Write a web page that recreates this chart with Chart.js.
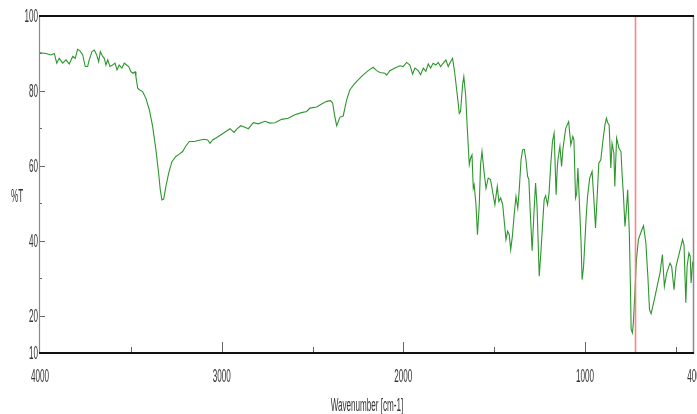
<!DOCTYPE html>
<html>
<head>
<meta charset="utf-8">
<script src="https://cdn.jsdelivr.net/npm/chart.js@4/dist/chart.umd.min.js"></script>
<style>
  html, body { margin: 0; padding: 0; background: #fff; }
  #wrap { width: 697px; height: 414px; position: relative; }
</style>
</head>
<body>
<div id="wrap"><canvas id="c" width="697" height="414"></canvas></div>
<script>
// ---- data ----
const wavenumbers = [
  4000,3967,3940,3921,3908,3894,3875,3857,3839,3820,3806,3793,3780,3765,3751,3738,3729,3714,3701,3688,
  3677,3668,3655,3646,3637,3627,3615,3600,3587,3576,3564,3549,3536,3523,3512,3499,3487,3477,3472,3462,
  3453,3435,3417,3398,3380,3362,3347,3338,3329,3319,3307,3292,3274,3252,3233,3215,3197,3178,3151,3123,
  3096,3077,3064,3050,3031,2991,2954,2932,2917,2895,2872,2853,2826,2799,2762,2734,2707,2670,2634,2597,
  2560,2532,2514,2477,2450,2422,2400,2389,2377,2367,2358,2349,2331,2312,2294,2267,2239,2221,2193,2166,
  2147,2129,2101,2092,2074,2046,2019,2001,1982,1964,1949,1936,1918,1905,1890,1876,1863,1850,1836,1821,
  1808,1795,1780,1766,1753,1740,1729,1722,1716,1703,1692,1685,1674,1667,1657,1648,1637,1630,1622,1615,
  1610,1600,1592,1582,1575,1567,1556,1545,1533,1520,1509,1496,1483,1474,1464,1453,1441,1435,1426,1417,
  1409,1400,1389,1380,1370,1362,1352,1343,1334,1325,1316,1309,1302,1291,1281,1272,1264,1252,1243,1233,
  1225,1217,1206,1198,1188,1179,1170,1159,1152,1148,1138,1129,1121,1106,1090,1078,1067,1061,1052,1046,
  1039,1028,1022,1016,1008,1001,994,986,974,961,951,942,933,924,913,901,890,882,875,867,
  858,851,841,836,826,813,802,795,789,780,771,765,756,750,746,739,734,728,717,706,
  693,678,665,654,645,636,618,599,587,574,563,550,532,523,510,499,483,472,463,455,
  445,438,428,421,416,408,400
];
const transmittance = [
  90.2,90.0,89.6,90.0,87.4,88.7,87.4,88.3,87.2,89.2,88.7,91.1,90.7,89.6,86.5,86.5,88.3,90.5,90.9,89.6,
  87.8,90.5,89.2,88.7,86.9,88.3,86.5,86.9,87.4,85.6,86.9,86.1,87.4,86.9,86.5,85.1,84.7,85.1,83.8,80.7,
  80.3,79.8,78.0,74.9,70.5,64.3,58.0,53.6,50.9,51.1,54.5,58.0,61.1,62.5,63.1,63.8,65.3,66.5,66.5,66.8,
  67.1,66.9,66.0,66.9,67.4,68.7,69.9,68.9,69.8,70.7,70.3,69.9,71.5,71.2,71.9,71.4,71.5,72.4,72.7,73.6,
  74.2,74.5,75.4,75.7,76.5,77.2,77.4,76.7,73.1,70.7,71.8,73.0,73.3,77.6,80.3,82.0,83.4,84.3,85.4,86.3,
  85.4,84.9,84.7,84.2,85.4,86.1,86.7,86.5,87.6,86.9,84.5,86.1,85.4,84.3,86.1,85.2,87.2,86.1,87.4,86.9,
  87.6,86.5,87.4,88.3,86.5,87.8,88.7,86.5,84.3,78.9,74.0,74.5,81.6,83.8,78.9,70.0,60.3,62.0,62.9,54.0,
  54.9,49.6,41.6,49.6,60.3,63.8,58.5,54.0,56.7,56.3,53.2,49.6,54.5,50.5,51.4,49.6,43.4,40.3,42.5,41.6,
  37.6,41.1,47.4,51.8,48.7,53.6,61.6,64.3,64.4,61.6,57.2,56.3,48.3,37.3,47.4,55.4,49.1,30.5,36.7,44.7,
  50.9,52.0,49.6,52.7,60.7,66.5,68.7,52.3,60.0,62.0,65.2,59.8,64.7,70.0,71.8,65.6,67.8,66.9,51.4,52.5,
  59.4,47.0,40.0,29.6,33.0,39.4,46.0,51.8,56.7,58.5,50.9,43.4,51.8,60.7,61.6,66.9,71.0,72.7,71.5,70.9,
  59.4,66.0,63.4,54.5,67.4,64.7,63.8,57.0,52.7,43.8,49.1,53.6,42.0,28.0,16.3,15.4,18.0,23.4,34.9,40.3,
  42.1,44.0,39.4,30.5,21.6,20.5,24.3,28.7,31.4,36.3,27.8,31.4,34.0,33.1,26.9,33.1,36.3,38.5,40.3,38.9,
  23.4,33.1,36.7,35.8,28.7,34.0,33.1
];
const markerWavenumber = [722];
const xTickValues = [4000, 3500, 3000, 2500, 2000, 1500, 1000, 500, 400];
const xTickLabels = ['4000', '', '3000', '', '2000', '', '1000', '', '400'];
const yTickValues = [10, 20, 30, 40, 50, 60, 70, 80, 90, 100];
const yTickLabels = ['10', '20', '', '40', '', '60', '', '80', '', '100'];
const xTitle = 'Wavenumber [cm-1]';
const yTitle = '%T';

const FONT = '18px "Liberation Sans", Arial, sans-serif';
const SQUEEZE = 0.45;

const spectrum = wavenumbers.map((w, i) => ({ x: w, y: transmittance[i] }));
const markerData = [];
markerWavenumber.forEach(w => { markerData.push({ x: w, y: 10 }); markerData.push({ x: w, y: 100 }); });

function squeezedText(ctx, text, x, y, align) {
  ctx.save();
  ctx.translate(x, y);
  ctx.scale(SQUEEZE, 1);
  ctx.textAlign = align;
  ctx.textBaseline = 'middle';
  ctx.fillText(text, 0, 0);
  ctx.restore();
}

const framePlugin = {
  id: 'frame',
  afterDraw(chart) {
    const { ctx, chartArea: a, scales } = chart;
    const xs = scales.x, ys = scales.y;
    ctx.save();
    // ticks (inward)
    ctx.strokeStyle = '#666';
    ctx.lineWidth = 1;
    yTickValues.forEach((v, i) => {
      if (v === 10 || v === 100) return;
      const py = Math.round(ys.getPixelForValue(v)) + 0.5;
      const len = yTickLabels[i] ? 5 : 2;
      ctx.beginPath(); ctx.moveTo(a.left, py); ctx.lineTo(a.left + len, py); ctx.stroke();
    });
    xTickValues.forEach((v, i) => {
      if (v === 4000 || v === 400) return;
      const px = Math.round(xs.getPixelForValue(v)) + 0.5;
      const len = (v % 1000 === 0) ? 11 : 6;
      ctx.beginPath(); ctx.moveTo(px, a.bottom); ctx.lineTo(px, a.bottom - len); ctx.stroke();
    });
    // frame
    ctx.strokeStyle = '#8a8a8a';
    ctx.lineWidth = 1.2;
    ctx.beginPath(); ctx.moveTo(a.left - 0.5, a.top); ctx.lineTo(a.left - 0.5, a.bottom); ctx.stroke();
    ctx.lineWidth = 1.5;
    ctx.beginPath(); ctx.moveTo(a.right - 0.5, a.top); ctx.lineTo(a.right - 0.5, a.bottom); ctx.stroke();
    ctx.strokeStyle = '#111';
    ctx.lineWidth = 2;
    ctx.beginPath(); ctx.moveTo(a.left - 1, a.top); ctx.lineTo(a.right, a.top); ctx.stroke();
    ctx.beginPath(); ctx.moveTo(a.left - 1, a.bottom); ctx.lineTo(a.right, a.bottom); ctx.stroke();
    // tick labels, positioned by the library's scales
    ctx.fillStyle = '#333';
    ctx.font = FONT;
    yTickValues.forEach((v, i) => {
      if (!yTickLabels[i]) return;
      squeezedText(ctx, yTickLabels[i], a.left - 2, ys.getPixelForValue(v) + 1.5, 'right');
    });
    xTickValues.forEach((v, i) => {
      if (!xTickLabels[i]) return;
      squeezedText(ctx, xTickLabels[i], xs.getPixelForValue(v), a.bottom + 24.5, 'center');
    });
    // axis titles
    squeezedText(ctx, yTitle, 11, 197, 'left');
    squeezedText(ctx, xTitle, (a.left + a.right) / 2, 406, 'center');
    ctx.restore();
  }
};

new Chart(document.getElementById('c'), {
  type: 'line',
  data: {
    datasets: [
      {
        label: '%T',
        data: spectrum,
        borderColor: 'rgb(45,150,45)',
        borderWidth: 1.1,
        pointRadius: 0,
        tension: 0,
        fill: false,
        order: 2
      },
      {
        label: 'marker',
        data: markerData,
        borderColor: 'rgba(255,120,120,0.9)',
        borderWidth: 1.6,
        pointRadius: 0,
        fill: false,
        order: 1
      }
    ]
  },
  options: {
    responsive: false,
    animation: false,
    devicePixelRatio: 1,
    layout: { padding: { top: 16, right: 3, left: 0, bottom: 0 } },
    plugins: { legend: { display: false }, tooltip: { enabled: false }, title: { display: false } },
    scales: {
      x: {
        type: 'linear',
        reverse: true,
        min: 400,
        max: 4000,
        border: { display: false },
        grid: { display: false, drawTicks: false },
        afterBuildTicks: s => { s.ticks = xTickValues.map(v => ({ value: v })); },
        afterFit: s => { s.height = 61; s.paddingLeft = 0; s.paddingRight = 0; },
        ticks: { display: false, autoSkip: false }
      },
      y: {
        type: 'linear',
        min: 10,
        max: 100,
        border: { display: false },
        grid: { display: false, drawTicks: false },
        afterBuildTicks: s => { s.ticks = yTickValues.map(v => ({ value: v })); },
        afterFit: s => { s.width = 40; s.paddingTop = 0; s.paddingBottom = 0; },
        ticks: { display: false, autoSkip: false }
      }
    }
  },
  plugins: [framePlugin]
});
</script>
</body>
</html>
